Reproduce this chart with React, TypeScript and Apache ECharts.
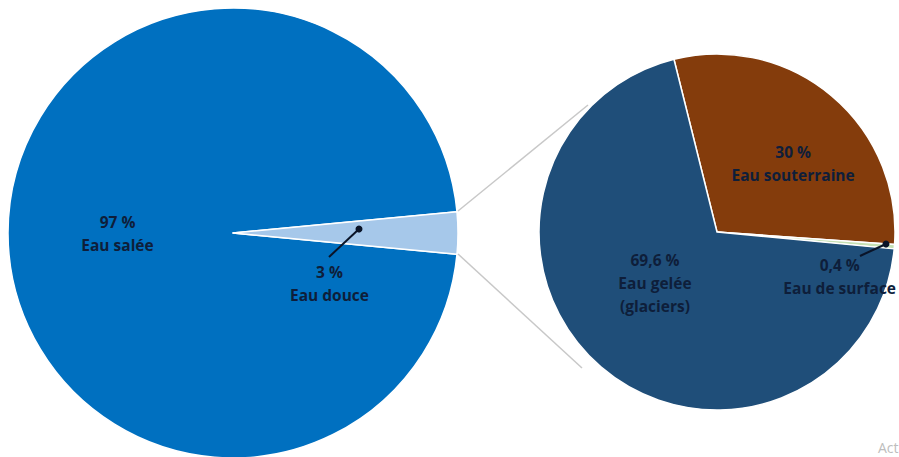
import React, { useEffect, useRef } from "react";
import * as echarts from "echarts";

const mainCategories = ["Eau salée", "Eau douce"];
const mainValues = [97, 3];
const mainLabels = ["97 %", "3 %"];

const freshCategories = ["Eau souterraine", "Eau de surface", "Eau gelée\n(glaciers)"];
const freshValues = [30, 0.4, 69.6];
const freshLabels = ["30 %", "0,4 %", "69,6 %"];

const mainColors = ["#0070C0", "#A6C8EA"];
const freshColors = ["#843C0C", "#C5E0B4", "#1F4E79"];

const textColor = "#0E1E3A";
const font = "Open Sans";

export default function App() {
  const ref = useRef<HTMLDivElement>(null);
  useEffect(() => {
    if (!ref.current) return;
    const chart = echarts.init(ref.current, null, { renderer: "svg" });
    const labelStyle = {
      color: textColor,
      fontFamily: font,
      fontWeight: "bold" as const,
      fontSize: 15.5,
      lineHeight: 23,
      align: "center" as const,
    };
    const mainOffsets = [[0, 0], [-19, 50]];
    const freshOffsets = [[17, 2], [31, 37], [-2, -19]];
    chart.setOption({
      animation: false,
      backgroundColor: "#ffffff",
      series: [
        {
          type: "pie",
          center: [233, 233],
          radius: [0, 225],
          startAngle: -5.4,
          clockwise: true,
          silent: true,
          itemStyle: { borderColor: "#ffffff", borderWidth: 1.5 },
          label: { show: true, position: "inside", ...labelStyle },
          labelLine: { show: false },
          data: mainCategories.map((name, i) => ({
            name,
            value: mainValues[i],
            itemStyle: { color: mainColors[i] },
            label: {
              formatter: mainLabels[i] + "\n" + name,
              offset: mainOffsets[i],
            },
          })),
        },
        {
          type: "pie",
          center: [717, 232],
          radius: [0, 178],
          startAngle: 104,
          clockwise: true,
          silent: true,
          itemStyle: { borderColor: "#ffffff", borderWidth: 1.5 },
          label: { show: true, position: "inside", ...labelStyle },
          labelLine: { show: false },
          data: freshCategories.map((name, i) => ({
            name,
            value: freshValues[i],
            itemStyle: { color: freshColors[i] },
            label: {
              formatter: freshLabels[i] + "\n" + name,
              offset: freshOffsets[i],
            },
          })),
        },
      ],
      graphic: [
        { type: "line", z: 100, shape: { x1: 458, y1: 211, x2: 588, y2: 105 }, style: { stroke: "#C8C8C8", lineWidth: 1.5 } },
        { type: "line", z: 100, shape: { x1: 458, y1: 254, x2: 582, y2: 368 }, style: { stroke: "#C8C8C8", lineWidth: 1.5 } },
        { type: "line", z: 100, shape: { x1: 359, y1: 229, x2: 329, y2: 257 }, style: { stroke: "#0A1428", lineWidth: 2 } },
        { type: "circle", z: 100, shape: { cx: 359, cy: 229, r: 3.5 }, style: { fill: "#0A1428" } },
        { type: "line", z: 100, shape: { x1: 886, y1: 244, x2: 860, y2: 256 }, style: { stroke: "#0A1428", lineWidth: 2 } },
        { type: "circle", z: 100, shape: { cx: 886, cy: 244, r: 3.5 }, style: { fill: "#0A1428" } },
        { type: "text", z: 100, x: 878, y: 440, style: { text: "Act", fill: "#BDBDBD", font: "14px Open Sans" } },
      ],
    });
    return () => chart.dispose();
  }, []);
  return (
    <div
      ref={ref}
      style={{ position: "fixed", left: 0, top: 0, width: 899, height: 457 }}
    />
  );
}
